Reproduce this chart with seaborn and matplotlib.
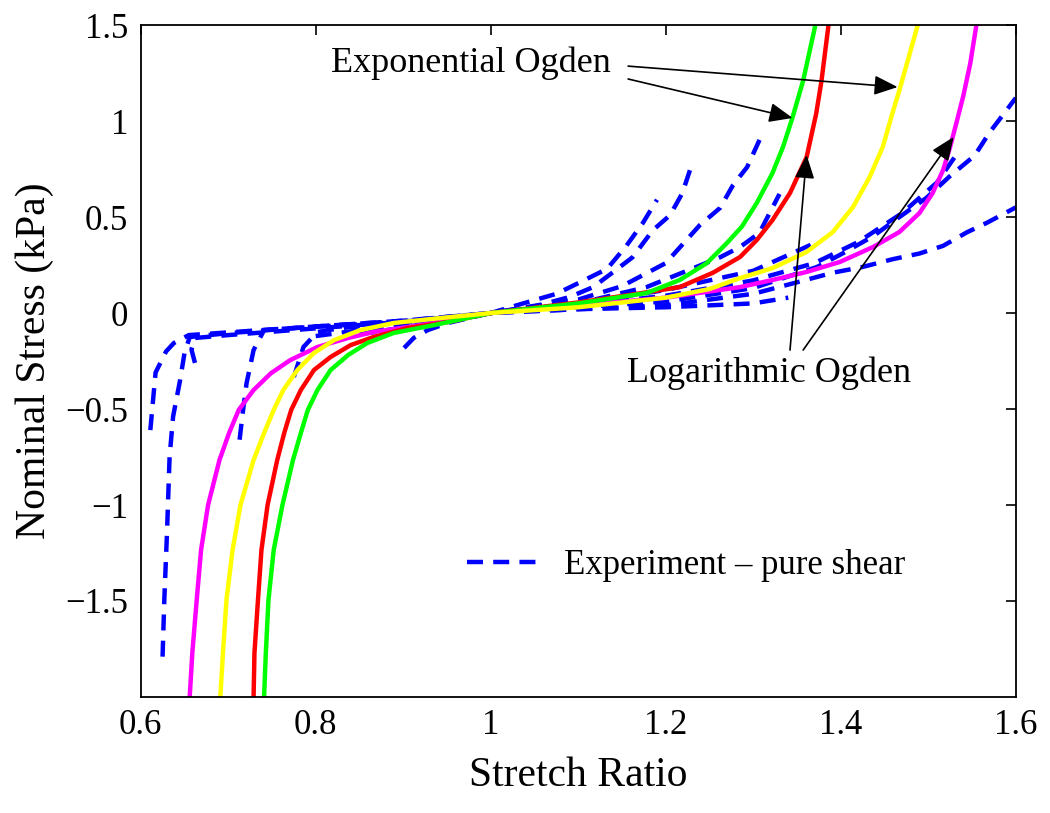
import matplotlib
matplotlib.use("Agg")
import matplotlib.pyplot as plt
from matplotlib.lines import Line2D
import pandas as pd
import seaborn as sns

# fitted model curves (stretch ratio, nominal stress in kPa)
mag_x = [0.656, 0.659, 0.664, 0.669, 0.677, 0.690, 0.701, 0.712, 0.729, 0.749, 0.771,
         0.802, 0.837, 0.866, 0.905, 0.943, 1.0, 1.1, 1.2, 1.285, 1.322, 1.361, 1.399,
         1.437, 1.467, 1.490, 1.505, 1.517, 1.525, 1.533, 1.540, 1.548, 1.555]
mag_y = [-2.0, -1.77, -1.495, -1.234, -1.0, -0.766, -0.625, -0.505, -0.401, -0.313, -0.245,
         -0.177, -0.130, -0.099, -0.073, -0.047, 0.0, 0.04, 0.08, 0.135, 0.172, 0.214, 0.266,
         0.344, 0.422, 0.521, 0.625, 0.745, 0.865, 1.005, 1.13, 1.30, 1.5]

yel_x = [0.691, 0.694, 0.698, 0.705, 0.714, 0.729, 0.741, 0.752, 0.763, 0.779, 0.798,
         0.821, 0.851, 0.889, 0.943, 1.0, 1.1, 1.2, 1.25, 1.285, 1.322, 1.361, 1.391,
         1.414, 1.433, 1.448, 1.459, 1.467, 1.488]
yel_y = [-2.0, -1.77, -1.495, -1.234, -1.0, -0.766, -0.625, -0.505, -0.401, -0.297, -0.208,
         -0.141, -0.089, -0.052, -0.026, 0.0, 0.03, 0.08, 0.125, 0.182, 0.234, 0.318, 0.422,
         0.552, 0.708, 0.865, 1.04, 1.16, 1.5]

red_x = [0.729, 0.730, 0.734, 0.738, 0.745, 0.756, 0.764, 0.772, 0.783, 0.798, 0.817,
         0.840, 0.866, 0.905, 0.951, 1.0, 1.1, 1.16, 1.216, 1.254, 1.285, 1.304, 1.322,
         1.342, 1.361, 1.372, 1.378, 1.386]
red_y = [-2.0, -1.77, -1.495, -1.234, -1.0, -0.766, -0.625, -0.505, -0.401, -0.297, -0.229,
         -0.167, -0.125, -0.078, -0.047, 0.0, 0.055, 0.095, 0.135, 0.21, 0.292, 0.380, 0.484,
         0.625, 0.8125, 1.04, 1.21, 1.5]

grn_x = [0.741, 0.743, 0.746, 0.752, 0.762, 0.774, 0.783, 0.791, 0.802, 0.817, 0.837,
         0.859, 0.889, 0.935, 1.0, 1.1, 1.178, 1.216, 1.247, 1.27, 1.287, 1.304, 1.322,
         1.334, 1.345, 1.357, 1.371]
grn_y = [-2.0, -1.77, -1.495, -1.234, -1.0, -0.766, -0.625, -0.505, -0.401, -0.297, -0.219,
         -0.156, -0.104, -0.063, 0.0, 0.05, 0.104, 0.172, 0.26, 0.365, 0.45, 0.573, 0.729,
         0.865, 1.02, 1.21, 1.5]

# experimental pure shear tests (dashed)
exp1_x = [0.625, 0.627, 0.630, 0.633, 0.637, 0.645, 0.650, 0.656, 0.70, 0.80, 0.90, 1.0,
          1.1, 1.2, 1.3, 1.373, 1.402, 1.437, 1.464, 1.498, 1.524, 1.553, 1.57, 1.595, 1.6]
exp1_y = [-1.79, -1.49, -1.15, -0.75, -0.54, -0.35, -0.21, -0.125, -0.105, -0.07, -0.04, 0.0,
          0.03, 0.06, 0.13, 0.24, 0.31, 0.40, 0.49, 0.60, 0.71, 0.82, 0.94, 1.09, 1.12]

exp2_x = [0.611, 0.617, 0.629, 0.638, 0.655, 0.75, 0.90, 1.0,
          1.1, 1.2, 1.3, 1.35, 1.391, 1.425, 1.459, 1.49, 1.517, 1.544, 1.567, 1.6]
exp2_y = [-0.61, -0.31, -0.20, -0.156, -0.115, -0.085, -0.045, 0.0,
          0.02, 0.04, 0.10, 0.16, 0.21, 0.24, 0.28, 0.31, 0.35, 0.42, 0.47, 0.55]

exp3_x = [0.662, 0.658, 0.662, 0.70, 0.80, 0.90, 1.0,
          1.1, 1.2, 1.3, 1.37, 1.42, 1.47, 1.51, 1.536]
exp3_y = [-0.26, -0.19, -0.13, -0.115, -0.08, -0.045, 0.0,
          0.04, 0.09, 0.17, 0.26, 0.37, 0.52, 0.68, 0.85]

exp4_x = [0.713, 0.717, 0.721, 0.729, 0.741, 0.80, 0.90, 1.0,
          1.1, 1.178, 1.208, 1.235, 1.262, 1.285, 1.307, 1.33]
exp4_y = [-0.66, -0.505, -0.365, -0.193, -0.089, -0.07, -0.04, 0.0,
          0.05, 0.135, 0.19, 0.24, 0.29, 0.344, 0.417, 0.62]

exp5_x = [0.775, 0.786, 0.802, 0.829, 0.90, 1.0,
          1.1, 1.15, 1.2, 1.239, 1.262, 1.277, 1.293, 1.31]
exp5_y = [-0.333, -0.177, -0.099, -0.078, -0.05, 0.0,
          0.07, 0.14, 0.26, 0.458, 0.547, 0.667, 0.76, 0.93]

exp6_x = [0.901, 0.912, 0.928, 0.951, 1.0,
          1.056, 1.09, 1.117, 1.139, 1.162, 1.185, 1.205, 1.219, 1.231]
exp6_y = [-0.182, -0.130, -0.089, -0.052, 0.0,
          0.042, 0.083, 0.135, 0.21, 0.29, 0.43, 0.51, 0.625, 0.79]

exp7_x = [0.85, 0.93, 1.0, 1.037, 1.075, 1.102, 1.133, 1.155, 1.174, 1.19]
exp7_y = [-0.11, -0.06, 0.0, 0.05, 0.10, 0.16, 0.23, 0.35, 0.47, 0.59]

exp8_x = [0.88, 1.0, 1.1, 1.2, 1.3, 1.373]
exp8_y = [-0.09, 0.0, 0.05, 0.12, 0.22, 0.37]

exp9_x = [0.80, 1.0, 1.1, 1.2, 1.3, 1.34]
exp9_y = [-0.12, 0.0, 0.02, 0.03, 0.05, 0.08]

exp_x = [exp1_x, exp2_x, exp3_x, exp4_x, exp5_x, exp6_x, exp7_x, exp8_x, exp9_x]
exp_y = [exp1_y, exp2_y, exp3_y, exp4_y, exp5_y, exp6_y, exp7_y, exp8_y, exp9_y]

# long form table so seaborn can draw each test as its own unit
rows = []
for i in range(len(exp_x)):
    for sx, sy in zip(exp_x[i], exp_y[i]):
        rows.append({"test": i, "stretch": sx, "stress": sy})
expData = pd.DataFrame(rows)

sns.set_style("white")
plt.rcParams['font.family'] = ['Liberation Serif', 'DejaVu Serif']
plt.rcParams['text.color'] = 'black'
plt.rcParams['axes.labelcolor'] = 'black'
plt.rcParams['xtick.color'] = 'black'
plt.rcParams['ytick.color'] = 'black'

fig = plt.figure(figsize=(10.5, 8.13), dpi=100)
ax = fig.add_axes([0.134, 0.1427, 0.8334, 0.8265])

lw = 3.2
dash = (0, (3.6, 2.3))
sns.lineplot(data=expData, x="stretch", y="stress", units="test", estimator=None,
             sort=False, color="#0000FF", linewidth=lw, linestyle=dash, legend=False, ax=ax)

# model fits
for cx, cy, col in [(mag_x, mag_y, "#FF00FF"), (red_x, red_y, "#FF0000"),
                    (grn_x, grn_y, "#00FF00"), (yel_x, yel_y, "#FFFF00")]:
    sns.lineplot(x=cx, y=cy, sort=False, estimator=None, color=col, linewidth=lw, ax=ax)

ax.set_xlim(0.6, 1.6)
ax.set_ylim(-2.0, 1.5)
ax.set_xticks([0.6, 0.8, 1.0, 1.2, 1.4, 1.6])
ax.set_xticklabels(["0.6", "0.8", "1", "1.2", "1.4", "1.6"])
ax.set_yticks([-1.5, -1.0, -0.5, 0, 0.5, 1.0, 1.5])
ax.set_yticklabels(["\u22121.5", "\u22121", "\u22120.5", "0", "0.5", "1", "1.5"])
ax.tick_params(direction="in", length=7, width=1.2, labelsize=25, pad=9,
               top=True, right=True)
for s in ax.spines.values():
    s.set_linewidth(1.3)
    s.set_color("black")

ax.set_xlabel("Stretch Ratio", fontsize=30, labelpad=10)
ax.set_ylabel("Nominal Stress (kPa)", fontsize=30, labelpad=8)

# annotations with arrows
arrow = dict(arrowstyle="-|>,head_length=0.6,head_width=0.25", color="black",
             lw=1.2, mutation_scale=24, shrinkA=0, shrinkB=0)
ax.text(0.977, 1.30, "Exponential Ogden", fontsize=26, ha="center", va="center")
ax.annotate("", xy=(1.465, 1.177), xytext=(1.157, 1.286), arrowprops=arrow)
ax.annotate("", xy=(1.345, 1.016), xytext=(1.157, 1.219), arrowprops=arrow)

ax.text(1.318, -0.3125, "Logarithmic Ogden", fontsize=26, ha="center", va="center")
ax.annotate("", xy=(1.361, 0.823), xytext=(1.342, -0.193), arrowprops=arrow)
ax.annotate("", xy=(1.529, 0.917), xytext=(1.357, -0.193), arrowprops=arrow)

handle = Line2D([], [], color="#0000FF", linewidth=lw, linestyle=dash)
ax.legend([handle], ["Experiment \u2013 pure shear"], loc="center left",
          bbox_to_anchor=(0.3726, 0.196), frameon=False, fontsize=25,
          borderpad=0, borderaxespad=0, handlelength=2.0, handletextpad=0.8)

plt.savefig("out.png", dpi=100)
